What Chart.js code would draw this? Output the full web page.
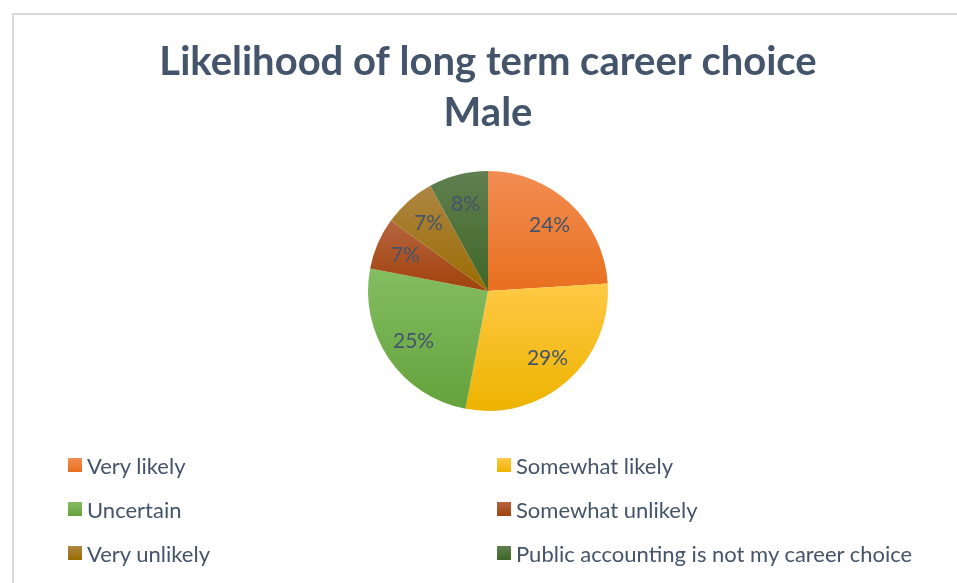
<!DOCTYPE html>
<html>
<head>
<meta charset="utf-8">
<script src="https://cdn.jsdelivr.net/npm/chart.js@4.4.1/dist/chart.umd.min.js"></script>
<style>
  html, body { margin: 0; padding: 0; background: #fff; }
  #wrap { position: relative; width: 957px; height: 583px; overflow: hidden; }
  #frame { position: absolute; left: 12px; top: 13px; width: 980px; height: 600px;
           border: 2px solid #d9d9d9; box-sizing: border-box; }
  #pieChart { position: absolute; left: 0; top: 0; }
  .legend-item { position: absolute; height: 24px; display: flex; align-items: center;
                 font-family: Lato, 'Open Sans', sans-serif; font-size: 22px; color: #44546A; white-space: nowrap; }
  .legend-item span.box { width: 14px; height: 14px; margin-right: 5px; display: inline-block; }
</style>
</head>
<body>
<div id="wrap">
  <div id="frame"></div>
  <canvas id="pieChart" width="957" height="583"></canvas>
  <div id="legend"></div>
</div>
<script>
const categories = [
    'Very likely',
    'Somewhat likely',
    'Uncertain',
    'Somewhat unlikely',
    'Very unlikely',
    'Public accounting is not my career choice'
];
const shares = [24, 29, 25, 7, 7, 8];

// gradient stops for each slice (light at top, darker at bottom)
const topColors = ['#F28D52', '#FFC945', '#84BD62', '#B6643F', '#AD8543', '#617F50'];
const bottomColors = ['#E8701F', '#EDB300', '#64A23C', '#A0420B', '#9A6C00', '#3E6626'];

// vertical gradient spanning the bounding box of one slice
function sliceGradient(ctx) {
    const chart = ctx.chart;
    const area = chart.chartArea;
    const i = ctx.dataIndex;
    if (!area || i === undefined) return topColors[i] || '#ccc';
    const cx = (area.left + area.right) / 2;
    const cy = (area.top + area.bottom) / 2;
    const r = Math.min(area.right - area.left, area.bottom - area.top) / 2;
    const total = shares.reduce((a, b) => a + b, 0);
    let start = -Math.PI / 2;
    for (let k = 0; k < i; k++) start += shares[k] / total * Math.PI * 2;
    const end = start + shares[i] / total * Math.PI * 2;
    let minY = cy, maxY = cy;
    for (let s = 0; s <= 40; s++) {
        const a = start + (end - start) * s / 40;
        const y = cy + Math.sin(a) * r;
        minY = Math.min(minY, y);
        maxY = Math.max(maxY, y);
    }
    const g = chart.ctx.createLinearGradient(0, minY, 0, maxY);
    g.addColorStop(0, topColors[i]);
    g.addColorStop(1, bottomColors[i]);
    return g;
}

// percentage labels placed inside each slice
const sliceLabels = {
    id: 'sliceLabels',
    afterDatasetsDraw(chart) {
        const ctx = chart.ctx;
        const meta = chart.getDatasetMeta(0);
        ctx.save();
        ctx.font = '21px Lato, "Open Sans", sans-serif';
        ctx.fillStyle = '#44546A';
        ctx.textAlign = 'center';
        ctx.textBaseline = 'middle';
        meta.data.forEach((arc, i) => {
            const p = arc.getProps(['x', 'y', 'startAngle', 'endAngle', 'outerRadius']);
            const mid = (p.startAngle + p.endAngle) / 2;
            const d = p.outerRadius * 0.75;
            ctx.fillText(shares[i] + '%', p.x + Math.cos(mid) * d, p.y + Math.sin(mid) * d);
        });
        ctx.restore();
    }
};

new Chart(document.getElementById('pieChart'), {
    type: 'pie',
    data: {
        labels: categories,
        datasets: [{
            data: shares,
            backgroundColor: sliceGradient,
            borderWidth: 0
        }]
    },
    options: {
        responsive: false,
        animation: false,
        layout: { padding: { left: 19, right: 0, top: 0, bottom: 172 } },
        plugins: {
            legend: { display: false },
            tooltip: { enabled: false },
            title: {
                display: true,
                text: ['Likelihood of long term career choice', 'Male'],
                color: '#44546A',
                font: { family: 'Lato, "Open Sans", sans-serif', size: 40, weight: 'bold', lineHeight: 51 / 40 },
                padding: { top: 37, bottom: 32 }
            }
        }
    },
    plugins: [sliceLabels]
});

// two-column legend below the pie
const legend = document.getElementById('legend');
categories.forEach((name, i) => {
    const item = document.createElement('div');
    item.className = 'legend-item';
    item.style.left = (i % 2 === 0 ? 68 : 497) + 'px';
    item.style.top = (453 + Math.floor(i / 2) * 44) + 'px';
    const box = document.createElement('span');
    box.className = 'box';
    box.style.background = `linear-gradient(${topColors[i]}, ${bottomColors[i]})`;
    item.appendChild(box);
    item.appendChild(document.createTextNode(name));
    legend.appendChild(item);
});
</script>
</body>
</html>
